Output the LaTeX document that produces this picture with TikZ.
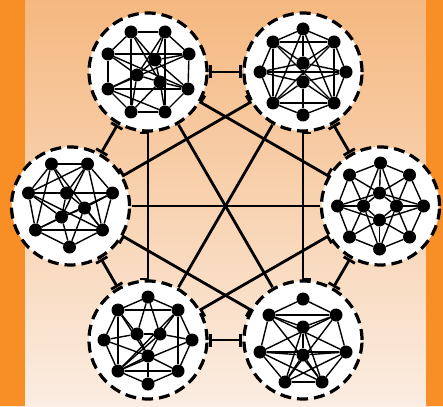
\documentclass[tikz,border=0pt]{standalone}
\usetikzlibrary{arrows.meta,calc}

\definecolor{bgtop}{RGB}{245,184,128}
\definecolor{bgbot}{RGB}{251,237,226}
\definecolor{barorange}{RGB}{247,142,38}

%% distance from a hub centre to where its links stop
\newcommand\hubr{61pt}
%% long link with a half tick at both ends (#3 = side of the tick)
\newcommand\longlink[3]{%
  \draw[link] ($(#1)!\hubr!(#2)!8pt!#3:(#2)$) -- ($(#1)!\hubr!(#2)$)
    -- ($(#2)!\hubr!(#1)$) -- ($(#2)!\hubr!(#1)!8pt!-#3:(#1)$);}
%% small graph inside a hub: #1 prefix, #2 hub, #3 dots, #4 wires
\newcommand\cluster[4]{%
  \foreach \n/\x/\y in {#3} \node[dot] (#1\n) at ($(#2)+(\x,\y)$) {};
  \foreach \u/\v in {#4} \draw[wire] (#1\u) -- (#1\v);}

\begin{document}
\begin{tikzpicture}[
  x=1pt, y=-1pt,
  hub/.style={circle, draw=black, fill=white, line width=3.2pt,
              dash pattern=on 11pt off 6pt, minimum size=118pt,
              inner sep=0pt, outer sep=2pt},
  dot/.style={circle, fill=black, inner sep=0pt, minimum size=13pt},
  wire/.style={line width=1.4pt, black},
  link/.style={line width=2.8pt, black, line join=miter},
  short/.style={link, {Bar[width=13pt]}-{Bar[width=13pt]}},
]
\useasboundingbox (0,0) rectangle (443,406);

%% ---------- background ----------
\fill[top color=bgtop, bottom color=bgbot] (0,0) rectangle (443,406);
\fill[barorange] (0,0) rectangle (25,406);
\fill[barorange] (426,0) rectangle (443,406);

%% ---------- hubs (regular hexagon) ----------
\node[hub] (tl) at (148,72)  {};
\node[hub] (tr) at (303,72)  {};
\node[hub] (l)  at (70.5,206) {};
\node[hub] (r)  at (380.5,206) {};
\node[hub] (bl) at (148,340) {};
\node[hub] (br) at (303,340) {};

%% ---------- links between hubs ----------
\draw[short] (tl) -- (tr);
\draw[short] (tr) -- (r);
\draw[short] (r) -- (br);
\draw[short] (br) -- (bl);
\draw[short] (bl) -- (l);
\draw[short] (l) -- (tl);

\longlink{tl}{bl}{270}
\longlink{tr}{br}{90}
\longlink{tl}{r}{90}
\longlink{tr}{l}{270}
\longlink{l}{br}{270}
\longlink{r}{bl}{90}

\draw[link] (tl) -- (br);
\draw[link] (tr) -- (bl);
\draw[link] (l) -- (r);

%% ---------- graphs inside the hubs ----------
\cluster{a}{tl}{1/-17/-40, 2/17/-40, 3/-40/-18, 4/41/-18, 5/7/-12, 6/-11/3,
  7/12/10, 8/-40/17, 9/40/17, 10/-17/40, 11/17/40}
  {1/2, 2/4, 4/9, 9/11, 11/10, 10/8, 8/3, 3/1, 3/4, 8/9, 1/5, 2/5, 4/5, 5/6,
   5/7, 5/9, 3/6, 6/8, 6/7, 6/10, 7/11, 7/10, 7/9, 1/7, 2/6, 3/9, 4/8, 8/11,
   1/10, 2/11}

\cluster{b}{tr}{1/0/-43, 2/-30/-30, 3/31/-30, 4/0/-9, 5/-43/0, 6/43/0,
  7/0/10, 8/-30/31, 9/31/31, 10/0/43}
  {1/2, 1/3, 2/5, 3/6, 5/8, 6/9, 8/10, 9/10, 2/3, 8/9, 2/8, 3/9, 1/4, 4/7,
   7/10, 2/4, 3/4, 5/4, 6/4, 5/7, 6/7, 8/7, 9/7, 2/9, 3/8, 5/6, 1/8, 1/9}

\cluster{c}{l}{1/-19/-42, 2/17/-42, 3/-42/-13, 4/-4/-13, 5/42/-13, 6/14/2,
  7/-9/11, 8/-35/24, 9/32/24, 10/-1/41}
  {1/2, 1/3, 2/5, 3/8, 5/9, 8/10, 9/10, 8/9, 3/5, 1/4, 2/4, 3/4, 4/6, 4/7,
   6/7, 6/9, 6/5, 7/8, 7/3, 7/10, 6/10, 1/8, 2/9, 2/3, 1/9, 3/9, 5/8, 2/7}

\cluster{d}{r}{1/0/-43, 2/-31/-31, 3/29/-31, 4/-1/-13, 5/-43/0, 6/-17/0,
  7/16/0, 8/43/0, 9/-1/14, 10/-31/31, 11/29/31, 12/-1/43}
  {1/2, 1/3, 2/5, 3/8, 5/10, 8/11, 10/12, 11/12, 4/6, 4/7, 6/9, 7/9, 1/4,
   9/12, 5/6, 7/8, 2/6, 2/4, 3/4, 3/7, 10/6, 10/9, 11/7, 11/9, 1/6, 1/7,
   5/4, 8/4, 5/9, 8/9, 12/6, 12/7}

\cluster{e}{bl}{1/0/-43, 2/-30/-30, 3/30/-30, 4/-11/-6, 5/12/-6, 6/-44/0,
  7/44/0, 8/0/16, 9/-30/31, 10/30/31, 11/0/44}
  {1/2, 1/3, 2/6, 3/7, 6/9, 7/10, 9/11, 10/11, 2/3, 9/10, 2/9, 3/10, 1/4,
   1/5, 4/5, 2/4, 3/5, 6/4, 7/5, 4/8, 5/8, 8/9, 8/10, 8/11, 9/3, 9/5, 9/7,
   6/8, 2/8}

\cluster{f}{br}{1/0/-41, 2/-34/-25, 3/33/-25, 4/0/-13, 5/-43/12, 6/0/15,
  7/43/12, 8/-18/42, 9/19/42}
  {1/2, 1/3, 2/5, 3/7, 5/8, 7/9, 8/9, 2/3, 2/4, 3/4, 4/6, 5/6, 6/7, 5/7,
   2/7, 3/5, 2/9, 3/8, 5/9, 7/8, 4/8, 4/9, 6/8, 6/9}

\end{tikzpicture}
\end{document}
